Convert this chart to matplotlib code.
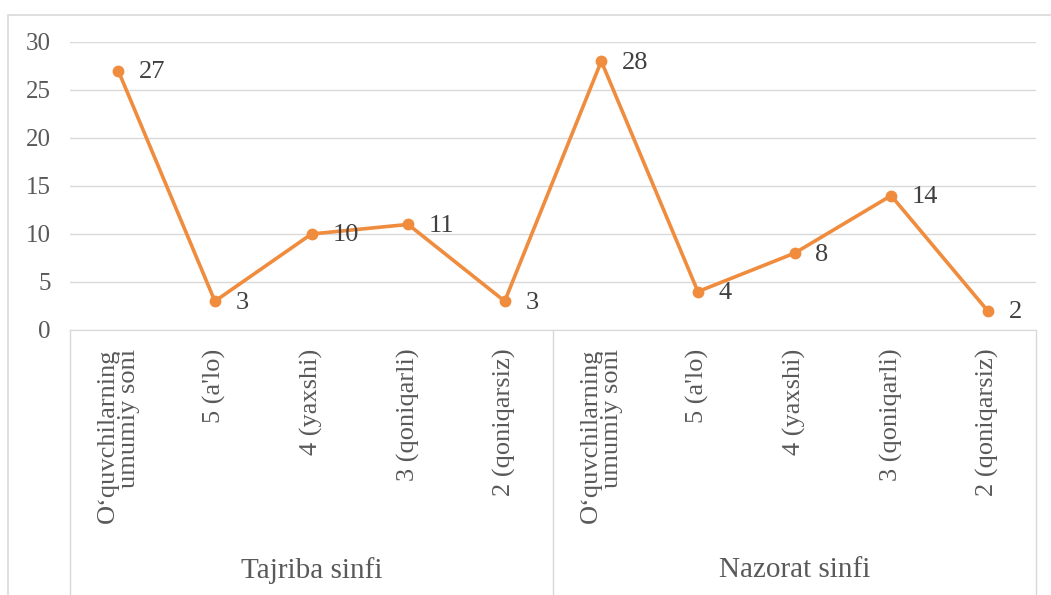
import matplotlib.pyplot as plt
from matplotlib.patches import Rectangle
import numpy as np

groups = ['Tajriba sinfi', 'Nazorat sinfi']
categories = ['O‘quvchilarning\numumiy soni', "5 (a'lo)", '4 (yaxshi)',
              '3 (qoniqarli)', '2 (qoniqarsiz)']
tajriba = [27, 3, 10, 11, 3]
nazorat = [28, 4, 8, 14, 2]

values = tajriba + nazorat
labels = categories + categories
x = np.arange(len(values))

plt.rcParams['font.family'] = ['Liberation Serif', 'DejaVu Serif']

fig = plt.figure(figsize=(10.51, 5.95), dpi=100)
ax = fig.add_axes([70 / 1051, 1 - 330 / 595, 966 / 1051, 288 / 595])

# outer chart border
fig.patches.append(Rectangle((8 / 1051, -0.01), 1.0, 1 - 15 / 595 + 0.01,
                             transform=fig.transFigure, fill=False,
                             edgecolor='#D9D9D9', lw=1.2))

orange = '#F08C3E'
ax.plot(x, values, color=orange, lw=2.6, marker='o', ms=7.5, zorder=3)
for xi, v in zip(x, values):
    ax.annotate(str(v), (xi, v), xytext=(15, -1), textcoords='offset points',
                ha='left', va='center', fontsize=19, color='#404040')

ax.set_xlim(-0.5, len(values) - 0.5)
ax.set_ylim(0, 30)
ax.set_yticks(range(0, 31, 5))
ax.tick_params(axis='y', length=0, pad=14, labelsize=18, labelcolor='#595959')
ax.set_xticks([])
ax.grid(axis='y', color='#D9D9D9', lw=1)
ax.set_axisbelow(True)
for s in ['top', 'right', 'left']:
    ax.spines[s].set_visible(False)
ax.spines['bottom'].set_color('#D9D9D9')

tr = ax.get_xaxis_transform()
for xi, lab in zip(x, labels):
    ax.text(xi, -0.065, lab, transform=tr, rotation=90, ha='center', va='top',
            multialignment='right', fontsize=19, color='#595959',
            linespacing=0.95)

for sx in [-0.5, 4.5, 9.5]:
    ax.plot([sx, sx], [0, -0.92], transform=tr, color='#D9D9D9', lw=1,
            clip_on=False)

for gi, g in enumerate(groups):
    ax.text(gi * 5 + 2, -0.835, g, transform=tr, ha='center', va='center',
            fontsize=21, color='#595959')

fig.savefig('out.png', dpi=100)
